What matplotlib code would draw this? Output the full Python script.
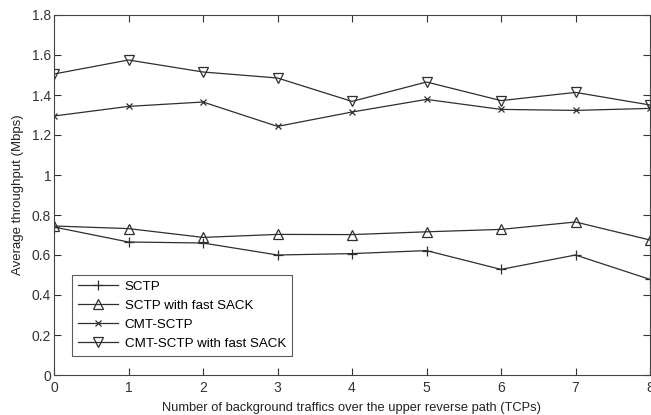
import matplotlib
matplotlib.use("Agg")
import matplotlib.pyplot as plt

plt.rcParams["font.family"] = ["Liberation Sans", "DejaVu Sans"]

x = [0, 1, 2, 3, 4, 5, 6, 7, 8]
sctp = [0.74, 0.665, 0.66, 0.60, 0.607, 0.622, 0.528, 0.60, 0.478]
sctp_fast = [0.745, 0.732, 0.688, 0.703, 0.702, 0.716, 0.728, 0.765, 0.675]
cmt = [1.295, 1.343, 1.365, 1.243, 1.315, 1.378, 1.328, 1.323, 1.333]
cmt_fast = [1.505, 1.575, 1.515, 1.485, 1.368, 1.465, 1.372, 1.413, 1.35]
labels = ["SCTP", "SCTP with fast SACK", "CMT-SCTP", "CMT-SCTP with fast SACK"]

LINE = "#2e2e2e"

fig = plt.figure(figsize=(6.51, 4.15), dpi=100)
ax = fig.add_axes([54 / 651, 40 / 415, 596 / 651, 360 / 415])

ax.plot(x, sctp, color=LINE, lw=0.9, marker="+", ms=7, mew=0.9, label=labels[0])
ax.plot(x, sctp_fast, color=LINE, lw=0.9, marker="^", ms=7.5, mfc="none", mew=0.9, label=labels[1])
ax.plot(x, cmt, color=LINE, lw=0.9, marker="x", ms=4, mew=0.9, label=labels[2])
ax.plot(x, cmt_fast, color=LINE, lw=0.9, marker="v", ms=7.5, mfc="none", mew=0.9, label=labels[3])

ax.set_xlim(0, 8)
ax.set_ylim(0, 1.8)
ax.set_xticks(x)
ax.set_yticks([0, 0.2, 0.4, 0.6, 0.8, 1, 1.2, 1.4, 1.6, 1.8])
ax.set_yticklabels(["0", "0.2", "0.4", "0.6", "0.8", "1", "1.2", "1.4", "1.6", "1.8"])
ax.tick_params(direction="in", length=5, width=0.8, top=True, right=True, labelsize=10, colors="#333333")
ax.tick_params(axis="x", pad=4)
ax.tick_params(axis="y", pad=2)
for s in ax.spines.values():
    s.set_linewidth(0.8)
    s.set_color("#444444")

ax.set_xlabel("Number of background traffics over the upper reverse path (TCPs)", fontsize=9.3, labelpad=5, color="#222222")
ax.set_ylabel("Average throughput (Mbps)", fontsize=9.5, labelpad=6, color="#222222")

leg = ax.legend(loc="lower left", bbox_to_anchor=(18 / 596, 19 / 360), borderaxespad=0, fontsize=9.6,
                frameon=True, fancybox=False, edgecolor="#333333", handlelength=3.0, borderpad=0.45,
                labelspacing=0.5, handletextpad=0.5)
leg.get_frame().set_linewidth(0.8)

fig.savefig("out.png", dpi=100)
